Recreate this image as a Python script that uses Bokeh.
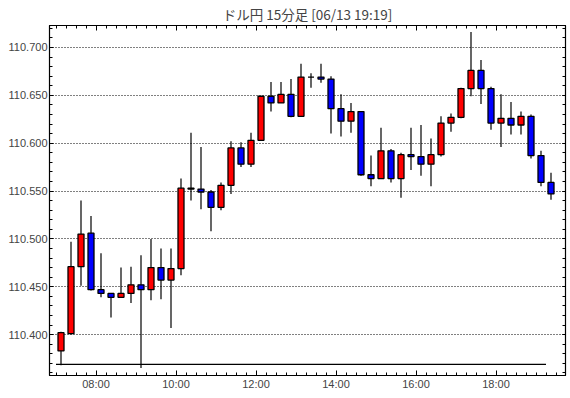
from bokeh.plotting import figure
from bokeh.models import Range1d, LinearAxis, FixedTicker, ColumnDataSource
from bokeh.embed import file_html
from bokeh.resources import INLINE

# ---------------- data ----------------
title_text = "ドル円 15分足 [06/13 19:19]"
first_bar = "07:00"
bar_minutes = 15

opens = [110.383, 110.401, 110.471, 110.506, 110.447, 110.443, 110.439, 110.443, 110.452, 110.447,
         110.470, 110.457, 110.469, 110.552, 110.552, 110.549, 110.533, 110.556, 110.595, 110.578,
         110.603, 110.649, 110.642, 110.651, 110.628, 110.669, 110.669, 110.667, 110.636, 110.623,
         110.633, 110.567, 110.563, 110.592, 110.563, 110.588, 110.586, 110.578, 110.588, 110.621,
         110.627, 110.657, 110.676, 110.657, 110.621, 110.626, 110.619, 110.628, 110.587, 110.559]
highs = [110.403, 110.497, 110.540, 110.524, 110.485, 110.443, 110.470, 110.471, 110.483, 110.500,
         110.490, 110.490, 110.563, 110.611, 110.596, 110.551, 110.559, 110.602, 110.601, 110.611,
         110.649, 110.664, 110.664, 110.667, 110.683, 110.673, 110.683, 110.670, 110.651, 110.642,
         110.633, 110.587, 110.616, 110.594, 110.590, 110.616, 110.619, 110.605, 110.628, 110.631,
         110.658, 110.716, 110.687, 110.659, 110.651, 110.643, 110.633, 110.630, 110.592, 110.569]
lows = [110.368, 110.400, 110.451, 110.446, 110.439, 110.418, 110.439, 110.433, 110.365, 110.436,
        110.437, 110.407, 110.462, 110.540, 110.531, 110.508, 110.530, 110.547, 110.575, 110.575,
        110.603, 110.633, 110.642, 110.627, 110.628, 110.658, 110.663, 110.610, 110.607, 110.611,
        110.566, 110.555, 110.563, 110.559, 110.543, 110.572, 110.566, 110.555, 110.586, 110.612,
        110.626, 110.649, 110.641, 110.614, 110.596, 110.609, 110.609, 110.584, 110.555, 110.541]
closes = [110.402, 110.471, 110.505, 110.447, 110.443, 110.439, 110.443, 110.452, 110.447, 110.470,
          110.457, 110.469, 110.553, 110.553, 110.549, 110.533, 110.556, 110.595, 110.578, 110.603,
          110.649, 110.642, 110.651, 110.628, 110.669, 110.669, 110.667, 110.636, 110.623, 110.633,
          110.567, 110.563, 110.592, 110.563, 110.588, 110.586, 110.578, 110.588, 110.621, 110.627,
          110.657, 110.676, 110.657, 110.621, 110.626, 110.619, 110.628, 110.587, 110.559, 110.547]

x_tick_labels = ["08:00", "10:00", "12:00", "14:00", "16:00", "18:00"]
y_tick_labels = ["110.400", "110.450", "110.500", "110.550", "110.600", "110.650", "110.700"]

ref_level = 110.369
ref_start = "07:00"
ref_end = "19:15"

up_color = "#ff0000"
down_color = "#0000ff"


def hours(s):
    h, m = s.split(":")
    return int(h) + int(m) / 60.0


# ---------------- derived ----------------
step = bar_minutes / 60.0
x0 = hours(first_bar)
xs = [x0 + step * i + step / 2 for i in range(len(opens))]
src = ColumnDataSource(dict(
    x=xs,
    top=[max(o, c) for o, c in zip(opens, closes)],
    bottom=[min(o, c) for o, c in zip(opens, closes)],
    high=highs, low=lows,
    color=[up_color if c >= o else down_color for o, c in zip(opens, closes)],
))

x_major = [hours(t) for t in x_tick_labels]
x_minor = [7.0 + step * i for i in range(0, 51)]
y_major = [float(t) for t in y_tick_labels]
y_minor = [round(110.36 + 0.01 * i, 2) for i in range(0, 37)]

xticker = FixedTicker(ticks=x_major, minor_ticks=x_minor)
yticker = FixedTicker(ticks=y_major, minor_ticks=y_minor)

# frame: 516 x 351 px, 40 px per hour, 960 px per yen
p = figure(width=568, height=396, output_backend="svg", toolbar_location=None,
           x_range=Range1d(6.8375, 19.7375), y_range=Range1d(110.357292, 110.722917),
           min_border_left=49, min_border_right=3, min_border_top=24, min_border_bottom=21)

p.background_fill_color = "white"
p.border_fill_color = "white"
p.outline_line_color = "black"
p.outline_line_width = 1.2

# title
p.title.text = title_text
p.title.align = "center"
p.title.text_font = "Noto Sans CJK JP"
p.title.text_font_size = "13.5px"
p.title.text_font_style = "normal"
p.title.standoff = 3

label_font = "Liberation Sans"

# bottom axis
xa = p.xaxis[0]
xa.ticker = xticker
xa.major_label_overrides = {hours(t): t for t in x_tick_labels}
xa.major_label_text_font = label_font
xa.major_label_text_font_size = "11px"
xa.major_label_standoff = 2
xa.major_tick_in = 5
xa.major_tick_out = 0
xa.minor_tick_in = 3
xa.minor_tick_out = 0

# left axis
ya = p.yaxis[0]
ya.ticker = yticker
ya.major_label_overrides = {float(t): t for t in y_tick_labels}
ya.major_label_text_font = label_font
ya.major_label_text_font_size = "11px"
ya.major_label_standoff = 2
ya.major_tick_in = 4
ya.major_tick_out = 0
ya.minor_tick_in = 3
ya.minor_tick_out = 0

# top axis (ticks only)
ta = LinearAxis(ticker=xticker, major_label_overrides={v: "" for v in x_major},
                major_label_text_font_size="0px", major_label_standoff=0,
                major_tick_in=5, major_tick_out=0, minor_tick_in=3, minor_tick_out=0)
p.add_layout(ta, "above")

# right axis (ticks only)
ra = LinearAxis(ticker=yticker, major_label_overrides={v: "" for v in y_major},
                major_label_text_font_size="0px", major_label_standoff=0,
                major_tick_in=3, major_tick_out=0, minor_tick_in=3, minor_tick_out=0)
p.add_layout(ra, "right")

# grid
p.xgrid.visible = False
p.ygrid.ticker = yticker
p.ygrid.grid_line_color = "black"
p.ygrid.grid_line_dash = "1 2"
p.ygrid.grid_line_width = 1

# reference level line
p.segment(x0=[hours(ref_start)], x1=[hours(ref_end)], y0=[ref_level], y1=[ref_level],
          line_color="black", line_width=1.3)

# candles
p.segment(x0="x", x1="x", y0="low", y1="high", source=src, line_color="black", line_width=1.2)
p.vbar(x="x", top="top", bottom="bottom", width=step * 0.6, source=src,
       fill_color="color", line_color="black", line_width=1.3)

open("out.html", "w").write(file_html(p, INLINE))
